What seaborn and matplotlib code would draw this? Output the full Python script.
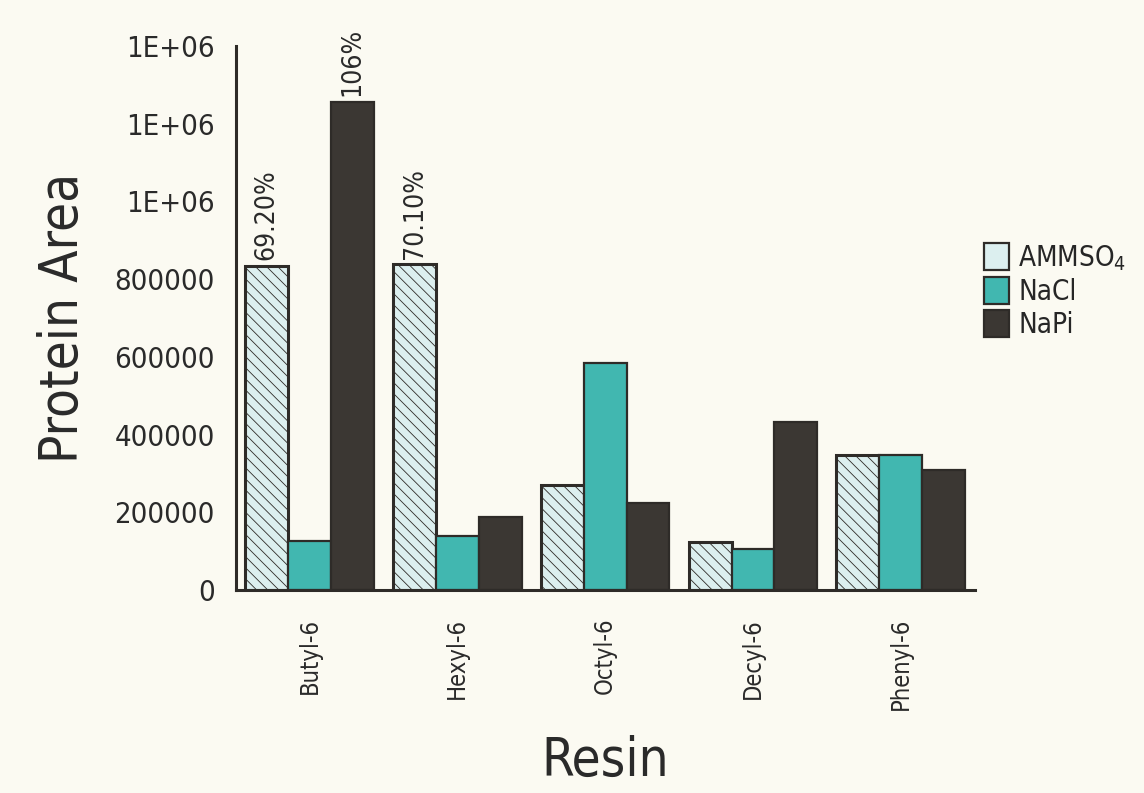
import matplotlib
matplotlib.use("Agg")
import matplotlib.pyplot as plt
import seaborn as sns
import pandas as pd
import numpy as np
from matplotlib.patches import Patch
from matplotlib import font_manager as fm

resins = ["Butyl-6", "Hexyl-6", "Octyl-6", "Decyl-6", "Phenyl-6"]
ammso4 = [835000, 838000, 271000, 123000, 347000]
nacl = [125000, 138000, 585000, 105000, 347000]
napi = [1257000, 187000, 225000, 432000, 309000]
series_names = ["AMMSO4", "NaCl", "NaPi"]
legend_labels = ["AMMSO$_4$", "NaCl", "NaPi"]
ytick_vals = [0, 200000, 400000, 600000, 800000, 1000000, 1200000, 1400000]
ytick_labels = ["0", "200000", "400000", "600000", "800000", "1E+06", "1E+06", "1E+06"]
annotations = [("Butyl-6", "AMMSO4", "69.20%"), ("Butyl-6", "NaPi", "106%"),
               ("Hexyl-6", "AMMSO4", "70.10%")]

df = pd.DataFrame({
    "Resin": resins * 3,
    "Salt": sum([[s] * len(resins) for s in series_names], []),
    "Area": ammso4 + nacl + napi,
})

sns.set_style("white")
cond = None
for f in fm.findSystemFonts():
    fl = f.lower()
    if "dejavusanscondensed.ttf" in fl or "sansnarrow-regular" in fl:
        cond = f
        break
if cond is not None:
    fm.fontManager.addfont(cond)
    fam = fm.FontProperties(fname=cond).get_name()
else:
    fam = "DejaVu Sans"
plt.rcParams["font.family"] = [fam, "DejaVu Sans"]
plt.rcParams["font.stretch"] = "condensed"
plt.rcParams["hatch.color"] = "#c6dcdd"
plt.rcParams["hatch.linewidth"] = 0.6

bg = "#fbfaf2"
colors = {"AMMSO4": "#dcefef", "NaCl": "#41b7b0", "NaPi": "#3b3733"}
edge = "#2e2b28"
txtc = "#2a2a2a"

fig = plt.figure(figsize=(11.44, 7.93), dpi=100, facecolor=bg)
ax = fig.add_axes([0.206, 0.256, 0.646, 0.686], facecolor=bg)

sns.barplot(data=df, x="Resin", y="Area", hue="Salt", order=resins,
            hue_order=series_names, palette=colors, width=0.87,
            edgecolor=edge, linewidth=1.6, saturation=1, ax=ax, legend=False)

n = len(resins)
for p in ax.patches[:n]:
    p.set_hatch("\\\\\\")
    if hasattr(p, "set_hatchcolor"):
        p.set_hatchcolor("#c6dcdd")
    p.set_linewidth(2.2)

ax.set_ylim(0, 1400000)
ax.set_xlim(-0.5, 4.5)
ax.set_yticks(ytick_vals)
ax.set_yticklabels(ytick_labels, fontsize=21)
ax.set_xticks(range(n))
ax.set_xticklabels(resins, rotation=90, fontsize=17)
ax.tick_params(axis="x", length=0, pad=20, labelcolor=txtc)
ax.set_xticks([0.5, 1.5, 2.5, 3.5], minor=True)
ax.tick_params(axis="x", which="minor", length=6, width=2, direction="inout", color=edge)
ax.tick_params(axis="y", length=9, width=2, color=edge, direction="out", pad=6, labelcolor=txtc)

for s in ["top", "right"]:
    ax.spines[s].set_visible(False)
for s in ["left", "bottom"]:
    ax.spines[s].set_color(edge)
    ax.spines[s].set_linewidth(2.2)

ax.set_ylabel("Protein Area", fontsize=38, labelpad=18, color=txtc)
ax.set_xlabel("Resin", fontsize=38, labelpad=18, color=txtc)

vals = {"AMMSO4": ammso4, "NaCl": nacl, "NaPi": napi}
offsets = {"AMMSO4": -0.29, "NaCl": 0.0, "NaPi": 0.29}
for r, s, txt in annotations:
    i = resins.index(r)
    v = vals[s][i]
    ax.text(i + offsets[s], v + 14000, txt, rotation=90, ha="center", va="bottom",
            fontsize=19, color=txtc)

handles = [Patch(facecolor=colors[s], edgecolor=edge, linewidth=1.6) for s in series_names]
fig.legend(handles, legend_labels, loc="upper left", bbox_to_anchor=(0.838, 0.725),
           frameon=False, fontsize=20, handlelength=0.9, handleheight=1.1,
           handletextpad=0.35, labelspacing=0.15)

fig.savefig("out.png", dpi=100, facecolor=bg)
